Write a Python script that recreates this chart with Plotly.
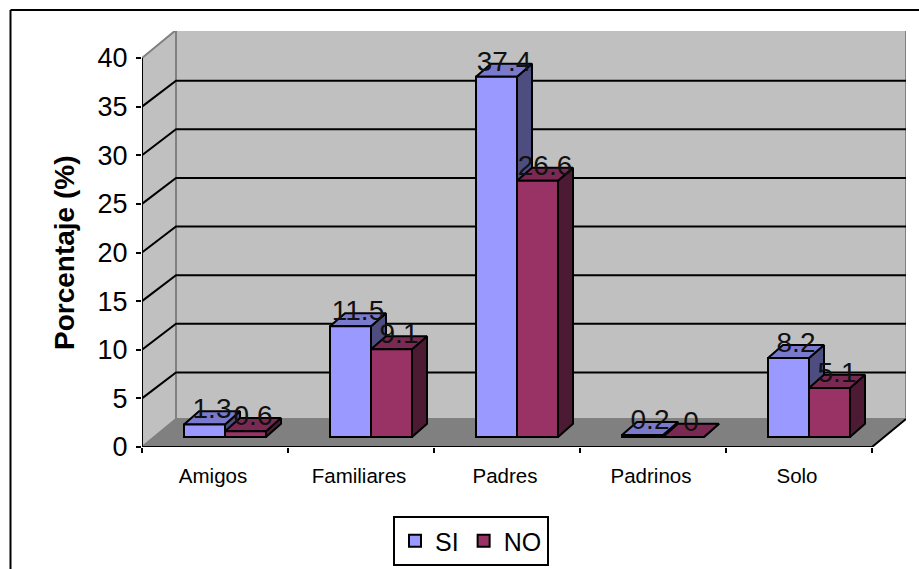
import plotly.graph_objects as go

categories = ["Amigos", "Familiares", "Padres", "Padrinos", "Solo"]
si_values = [1.3, 11.5, 37.4, 0.2, 8.2]
no_values = [0.6, 9.1, 26.6, 0, 5.1]
y_ticks = [0, 5, 10, 15, 20, 25, 30, 35, 40]

# figure geometry (pixels)
W, H = 919, 569
L, R, T, B = 142, 13, 31, 122
CAT_PX = 146.0
PX_Y = 9.725
BAR_PX_Y = 9.63
BAR_BASE_PX = 10.0
PLOT_W = W - L - R
PLOT_H = H - T - B

x_lo = -0.5
x_hi = x_lo + PLOT_W / CAT_PX
y_hi = PLOT_H / PX_Y
wall_dx = 34 / CAT_PX
wall_dy = 28 / PX_Y
grid_dy = 26 / PX_Y
bar_dx = 15 / CAT_PX
bar_dy = 13 / BAR_PX_Y
bar_w = 41 / CAT_PX
shift = 10 / CAT_PX
label_shift = 2 / CAT_PX
k = BAR_PX_Y / PX_Y
base = BAR_BASE_PX / PX_Y
n = len(categories)
x_end = x_lo + n

FONT = "Liberation Sans, Arial, sans-serif"
fig = go.Figure()


def poly(xs, ys, fill, line, lw=1.5):
    fig.add_trace(go.Scatter(x=xs, y=ys, mode="lines", fill="toself", fillcolor=fill,
                             line=dict(color=line, width=lw), hoverinfo="skip",
                             showlegend=False, cliponaxis=False))


# walls and floor
poly([x_lo, x_lo + wall_dx, x_lo + wall_dx, x_lo, x_lo],
     [0, wall_dy, 40 + wall_dy, 40, 0], "#C0C0C0", "#808080", 2)
poly([x_lo + wall_dx, x_end + wall_dx, x_end + wall_dx, x_lo + wall_dx, x_lo + wall_dx],
     [wall_dy, wall_dy, 40 + wall_dy, 40 + wall_dy, wall_dy], "#C0C0C0", "#808080", 2)
poly([x_lo, x_end, x_end + wall_dx, x_lo + wall_dx, x_lo],
     [0, 0, wall_dy, wall_dy, 0], "#808080", "#808080", 1)

# gridlines on side and back wall
gx, gy = [], []
for v in y_ticks[1:-1]:
    gx += [x_lo, x_lo + wall_dx, x_end + wall_dx, None]
    gy += [v, v + grid_dy, v + grid_dy, None]
fig.add_trace(go.Scatter(x=gx, y=gy, mode="lines", line=dict(color="black", width=2),
                         hoverinfo="skip", showlegend=False))

# axis lines
fig.add_trace(go.Scatter(x=[x_lo, x_lo, None, x_lo, x_end, x_end + wall_dx],
                         y=[40, 0, None, 0, 0, wall_dy], mode="lines",
                         line=dict(color="black", width=2), hoverinfo="skip",
                         showlegend=False, cliponaxis=False))

# bar top and side faces
series = [(si_values, -1, "#7A7ACC", "#4D4D80"), (no_values, 0, "#7A2952", "#4D1A33")]
for vals, off, top_c, side_c in series:
    for i, v in enumerate(vals):
        x0 = i + shift + off * bar_w
        x1 = x0 + bar_w
        y0 = base
        y1 = base + v * k
        poly([x1, x1 + bar_dx, x1 + bar_dx, x1, x1],
             [y0, y0 + bar_dy, y1 + bar_dy, y1, y0], side_c, "black", 2)
        poly([x0, x1, x1 + bar_dx, x0 + bar_dx, x0],
             [y1, y1, y1 + bar_dy, y1 + bar_dy, y1], top_c, "black", 2)

# front faces on an overlay subplot
xb = [i + shift for i in range(n)]
fig.add_trace(go.Bar(name="SI", x=xb, y=si_values, xaxis="x2", yaxis="y2",
                     marker=dict(color="#9999FF", line=dict(color="black", width=2)),
                     hoverinfo="skip"))
fig.add_trace(go.Bar(name="NO", x=xb, y=no_values, xaxis="x2", yaxis="y2",
                     marker=dict(color="#993366", line=dict(color="black", width=2)),
                     hoverinfo="skip"))

# value labels
for vals, off in ((si_values, -0.5), (no_values, 0.5)):
    fig.add_trace(go.Scatter(
        x=[i + shift + off * bar_w + bar_dx / 2 for i in range(n)],
        y=[v + bar_dy for v in vals], text=[str(v) for v in vals],
        mode="text", textposition="middle center", xaxis="x2", yaxis="y2",
        textfont=dict(family=FONT, size=28, color="#111111"),
        hoverinfo="skip", showlegend=False, cliponaxis=False))

fig.update_layout(
    width=W, height=H, margin=dict(l=L, r=R, t=T, b=B, autoexpand=False),
    paper_bgcolor="white", plot_bgcolor="white",
    font=dict(family=FONT, color="black"),
    barmode="group", bargap=1 - 2 * bar_w, bargroupgap=0,
    xaxis=dict(range=[x_lo, x_hi], tickmode="array",
               tickvals=[i - label_shift for i in range(n)],
               ticktext=categories, ticks="", showgrid=False, zeroline=False,
               showline=False, tickfont=dict(size=20.5), ticklabelstandoff=14,
               minor=dict(tickmode="array", tickvals=[x_lo + i for i in range(n + 1)],
                          ticks="outside", ticklen=5, tickwidth=2, tickcolor="black",
                          showgrid=False)),
    yaxis=dict(range=[0, y_hi], tickmode="array", tickvals=y_ticks,
               ticks="outside", ticklen=5, tickwidth=2, tickcolor="black",
               showgrid=False, zeroline=False, showline=False,
               tickfont=dict(size=27), ticklabelstandoff=3),
    xaxis2=dict(overlaying="x", range=[x_lo, x_hi], visible=False),
    yaxis2=dict(overlaying="y", visible=False,
                range=[-BAR_BASE_PX / BAR_PX_Y, (PLOT_H - BAR_BASE_PX) / BAR_PX_Y]),
    legend=dict(orientation="h", x=471 / W, y=1 - 541 / H, xref="container", yref="container",
                xanchor="center", yanchor="middle", bordercolor="black", borderwidth=2,
                bgcolor="white", font=dict(size=25), traceorder="normal"),
    annotations=[
        dict(text="<b>Porcentaje (%)</b>", textangle=-90, showarrow=False,
             xref="paper", yref="paper", xanchor="center", yanchor="middle",
             x=(64 - L) / PLOT_W, y=1 - (253 - T) / PLOT_H, font=dict(size=28)),
    ],
    shapes=[
        dict(type="line", xref="paper", yref="paper", x0=(10.5 - L) / PLOT_W, x1=(W - L) / PLOT_W,
             y0=1 + (T - 10) / PLOT_H, y1=1 + (T - 10) / PLOT_H, line=dict(color="black", width=2)),
        dict(type="line", xref="paper", yref="paper", x0=(10.5 - L) / PLOT_W, x1=(10.5 - L) / PLOT_W,
             y0=1 + (T - 10) / PLOT_H, y1=1 + (T - H) / PLOT_H, line=dict(color="black", width=2)),
    ],
)
fig.write_html("out.html", config={"displayModeBar": False},
               post_script="document.body.style.margin='0';")
